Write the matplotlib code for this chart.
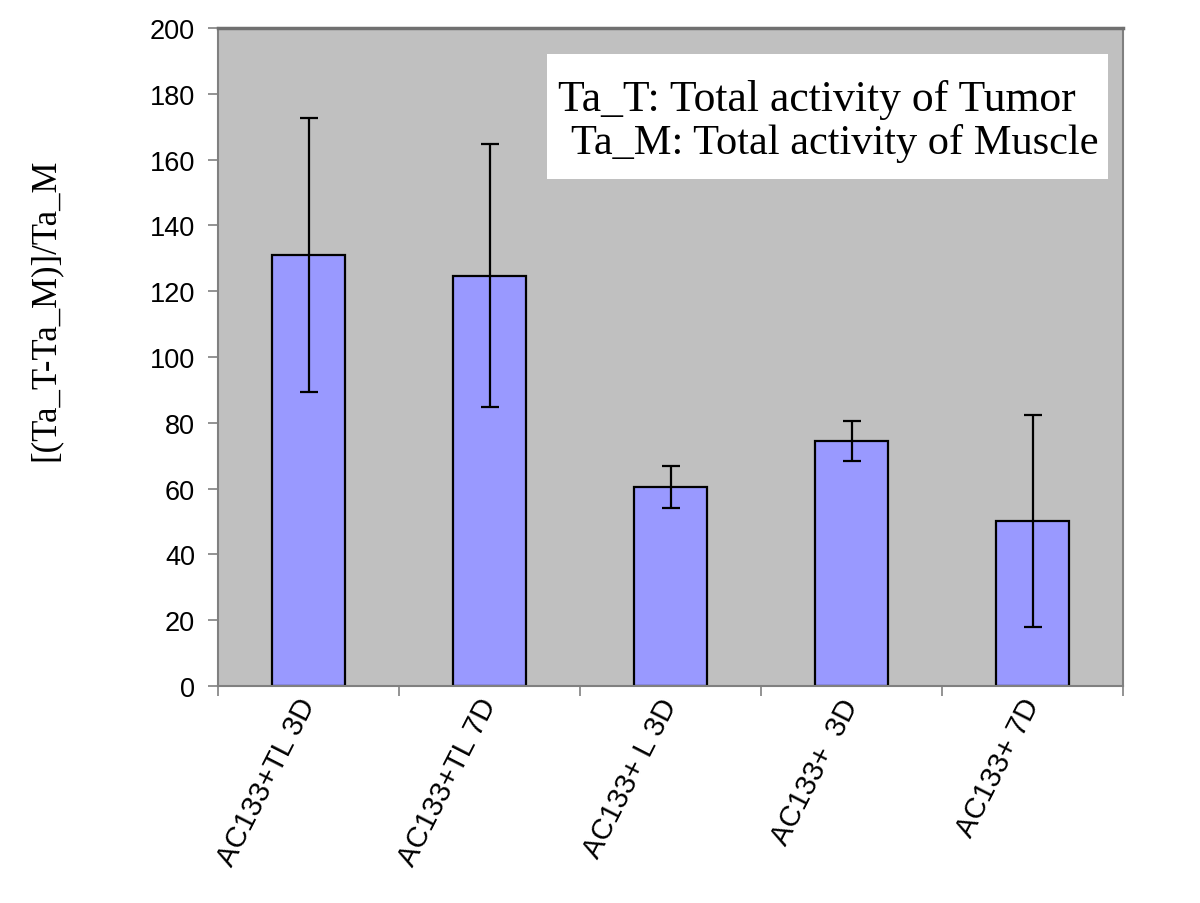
import matplotlib
matplotlib.use('Agg')
import matplotlib.pyplot as plt
from matplotlib.patches import Rectangle

# data
groups = ['AC133+TL 3D', 'AC133+TL 7D', 'AC133+ L 3D', 'AC133+  3D', 'AC133+ 7D']
means = [131, 124.7, 60.5, 74.5, 50.2]
errors = [41.5, 40, 6.3, 6.1, 32.2]
y_ticks = [0, 20, 40, 60, 80, 100, 120, 140, 160, 180, 200]

fig = plt.figure(figsize=(12, 9.04), dpi=100)
ax = fig.add_axes([218 / 1200, 1 - 687 / 904, (1123 - 218) / 1200, (687 - 29) / 904])
ax.set_facecolor('#C0C0C0')

x = list(range(len(groups)))
ax.bar(x, means, width=0.4, color='#9999FF', edgecolor='black', linewidth=1.6, zorder=2)
ax.errorbar(x, means, yerr=errors, fmt='none', ecolor='black', elinewidth=1.6,
            capsize=6.5, capthick=1.6, zorder=3)

ax.set_xlim(-0.5, len(groups) - 0.5)
ax.set_ylim(0, 200)
ax.set_yticks(y_ticks)
ax.set_yticklabels([str(t) for t in y_ticks], fontsize=19.5, family='Liberation Sans')

# category ticks sit on the boundaries, labels at centres
ax.set_xticks([i - 0.5 for i in range(len(groups) + 1)])
ax.set_xticklabels([])
ax.set_xticks(x, minor=True)
ax.set_xticklabels(groups, minor=True, rotation=63, ha='right', va='center',
                   rotation_mode='anchor', fontsize=21, family='Liberation Sans')
ax.tick_params(axis='x', which='minor', length=0, pad=10)
ax.tick_params(axis='both', which='major', color='#808080', length=7, width=1.2)
ax.tick_params(axis='y', pad=9.5)

for side in ['left', 'bottom', 'right']:
    ax.spines[side].set_color('#808080')
    ax.spines[side].set_linewidth(1.5)
ax.spines['top'].set_color('#707070')
ax.spines['top'].set_linewidth(2.5)

# white note box
ax.add_patch(Rectangle((0.3635, 0.7705), 0.6195, 0.19, transform=ax.transAxes,
                       facecolor='white', edgecolor='none', zorder=4))
ax.text(0.3755, 0.892, 'Ta_T: Total activity of Tumor', transform=ax.transAxes,
        fontsize=31.5, family='Liberation Serif', va='center', ha='left', zorder=5)
ax.text(0.390, 0.826, 'Ta_M: Total activity of Muscle', transform=ax.transAxes,
        fontsize=30.5, family='Liberation Serif', va='center', ha='left', zorder=5)

fig.text(45 / 1200, 1 - 310 / 904, '[(Ta_T-Ta_M)]/Ta_M', rotation=90,
         fontsize=25, family='Liberation Serif', ha='center', va='center')

fig.savefig('out.png', dpi=100)
